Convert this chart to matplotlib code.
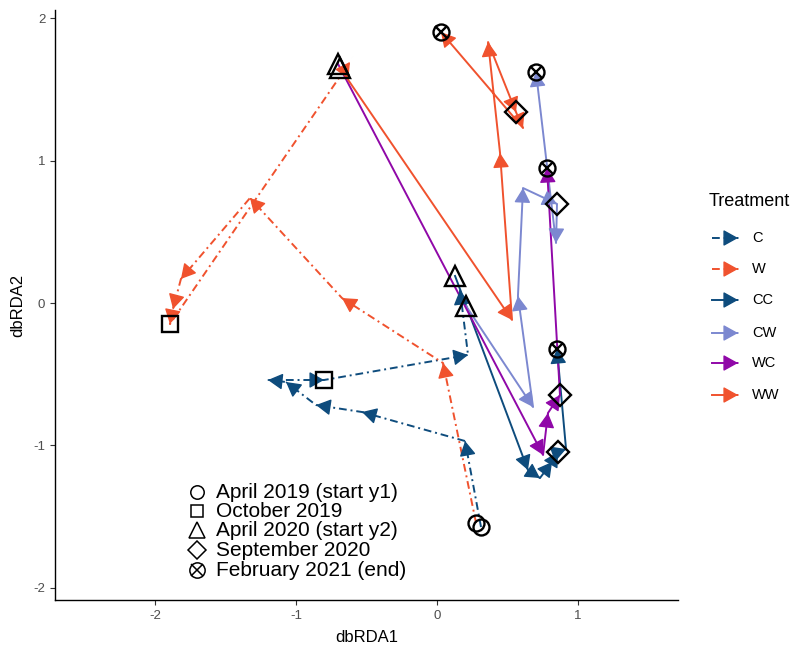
import matplotlib
matplotlib.use("Agg")
import matplotlib.pyplot as plt

plt.rcParams['font.family'] = ['Liberation Sans', 'DejaVu Sans']
plt.rcParams['axes.unicode_minus'] = False

# ---------------- data ----------------
treatments = ["C", "W", "CC", "CW", "WC", "WW"]
dates = ["April 2019 (start y1)", "October 2019", "April 2020 (start y2)",
         "September 2020", "February 2021 (end)"]

C_x = [0.312, 0.199, -0.532, -0.858, -1.071, -1.199, -0.801, 0.220, 0.163]
C_y = [-1.574, -0.970, -0.766, -0.717, -0.555, -0.541, -0.541, -0.365, 0.091]
C_mark_idx = [0, 6]
C_mark_date = [0, 1]

W_x = [0.277, 0.043, -0.674, -1.326, -1.816, -1.872, -1.894, -0.617]
W_y = [-1.546, -0.422, 0.035, 0.738, 0.169, -0.042, -0.148, 1.694]
W_mark_idx = [0, 6]
W_mark_date = [0, 1]

CC_x = [0.128, 0.645, 0.730, 0.816, 0.858, 0.915, 0.851]
CC_y = [0.190, -1.174, -1.230, -1.117, -1.047, -1.026, -0.323]
CC_mark_idx = [0, 4, 6]
CC_mark_date = [2, 3, 4]

CW_x = [0.206, 0.681, 0.574, 0.610, 0.851, 0.844, 0.702]
CW_y = [-0.021, -0.731, 0.049, 0.808, 0.696, 0.422, 1.623]
CW_mark_idx = [0, 4, 6]
CW_mark_date = [2, 3, 4]

WC_x = [-0.702, 0.752, 0.787, 0.872, 0.780]
WC_y = [1.680, -1.068, -0.773, -0.647, 0.949]
WC_mark_idx = [0, 3, 4]
WC_mark_date = [2, 3, 4]

WW_x = [-0.688, 0.532, 0.447, 0.362, 0.560, 0.610, 0.028]
WW_y = [1.652, -0.119, 1.054, 1.834, 1.342, 1.230, 1.904]
WW_mark_idx = [0, 4, 6]
WW_mark_date = [2, 3, 4]

paths = {
    "C": (C_x, C_y, C_mark_idx, C_mark_date),
    "W": (W_x, W_y, W_mark_idx, W_mark_date),
    "CC": (CC_x, CC_y, CC_mark_idx, CC_mark_date),
    "CW": (CW_x, CW_y, CW_mark_idx, CW_mark_date),
    "WC": (WC_x, WC_y, WC_mark_idx, WC_mark_date),
    "WW": (WW_x, WW_y, WW_mark_idx, WW_mark_date),
}

# ---------------- style ----------------
colors = {"C": "#0E4C7D", "W": "#F0522E", "CC": "#0E4C7D",
          "CW": "#7C88D0", "WC": "#9008A8", "WW": "#F0522E"}
DASHDOT = (0, (4, 2, 1, 2))
lstyles = {"C": DASHDOT, "W": DASHDOT, "CC": "-", "CW": "-", "WC": "-", "WW": "-"}
ARROW = '-|>,head_length=0.45,head_width=0.25'

markers = ['o', 's', '^', 'D', 'X']
msizes = [11.5, 11, 14, 11, 11.5]

fig = plt.figure(figsize=(7.93, 6.47), dpi=100)
ax = fig.add_axes([55 / 793, 47 / 647, (678 - 55) / 793, (637 - 47) / 647])
ax.set_xlim(-2.709, 1.709)
ax.set_ylim(-2.087, 2.059)


def arrow_head(a, x0, y0, x1, y1, color, coords='data', z=3):
    dx, dy = x1 - x0, y1 - y0
    a.annotate('', xy=(x1, y1), xytext=(x1 - dx * 0.01, y1 - dy * 0.01),
               xycoords=coords, textcoords=coords,
               arrowprops=dict(arrowstyle=ARROW, color=color, lw=1,
                               mutation_scale=20, shrinkA=0, shrinkB=0),
               zorder=z)


def draw_marker(a, x, y, code, z=5):
    if markers[code] == 'X':
        a.plot([x], [y], marker='o', ms=msizes[code], mfc='none', mec='black',
               mew=1.7, ls='none', zorder=z)
        a.plot([x], [y], marker='x', ms=msizes[code] * 0.72, mec='black',
               mew=1.7, ls='none', zorder=z)
    else:
        a.plot([x], [y], marker=markers[code], ms=msizes[code], mfc='none',
               mec='black', mew=1.7, ls='none', zorder=z)


for t in treatments:
    xs, ys, _, _ = paths[t]
    ax.plot(xs, ys, color=colors[t], lw=1.4, linestyle=lstyles[t], zorder=2)
    for i in range(1, len(xs)):
        arrow_head(ax, xs[i - 1], ys[i - 1], xs[i], ys[i], colors[t])

for t in treatments:
    xs, ys, idx, dcode = paths[t]
    for i, d in zip(idx, dcode):
        draw_marker(ax, xs[i], ys[i], d)

# axes styling
for s in ['top', 'right']:
    ax.spines[s].set_visible(False)
for s in ['left', 'bottom']:
    ax.spines[s].set_linewidth(1.0)
    ax.spines[s].set_color('black')
ax.set_xticks([-2, -1, 0, 1])
ax.set_yticks([-2, -1, 0, 1, 2])
ax.tick_params(labelsize=9.5, labelcolor='#4D4D4D', color='#333333',
               length=3.5, width=0.8)
ax.set_xlabel("dbRDA1", fontsize=12, labelpad=6)
ax.set_ylabel("dbRDA2", fontsize=12, labelpad=6)

# overlay in pixel coordinates for legends
lax = fig.add_axes([0, 0, 1, 1])
lax.set_xlim(0, 793)
lax.set_ylim(647, 0)
lax.axis('off')

# shape legend (inside plot, bottom-left)
leg_rows = [492, 511, 530, 550, 570]
for k, lab in enumerate(dates):
    if markers[k] == 'X':
        lax.plot([197], [leg_rows[k]], marker='o', ms=11, mfc='none', mec='black', mew=1.1)
        lax.plot([197], [leg_rows[k]], marker='x', ms=8, mec='black', mew=1.1)
    else:
        lax.plot([197], [leg_rows[k]], marker=markers[k], ms=msizes[k] * 0.84,
                 mfc='none', mec='black', mew=1.1)
    lax.text(216, leg_rows[k] + 0.5, lab, fontsize=15, va='center', ha='left', color='black')

# treatment legend (right)
lax.text(709, 202, "Treatment", fontsize=13, va='center', ha='left', color='black')
key_rows = [238, 269, 300, 333, 363, 395]
for t, yk in zip(treatments, key_rows):
    lax.plot([712, 736], [yk, yk], color=colors[t], lw=1.4, linestyle=lstyles[t])
    arrow_head(lax, 712, yk, 738, yk, colors[t])
    lax.text(752, yk, t, fontsize=10.5, va='center', ha='left', color='black')

fig.savefig("out.png", dpi=100)
